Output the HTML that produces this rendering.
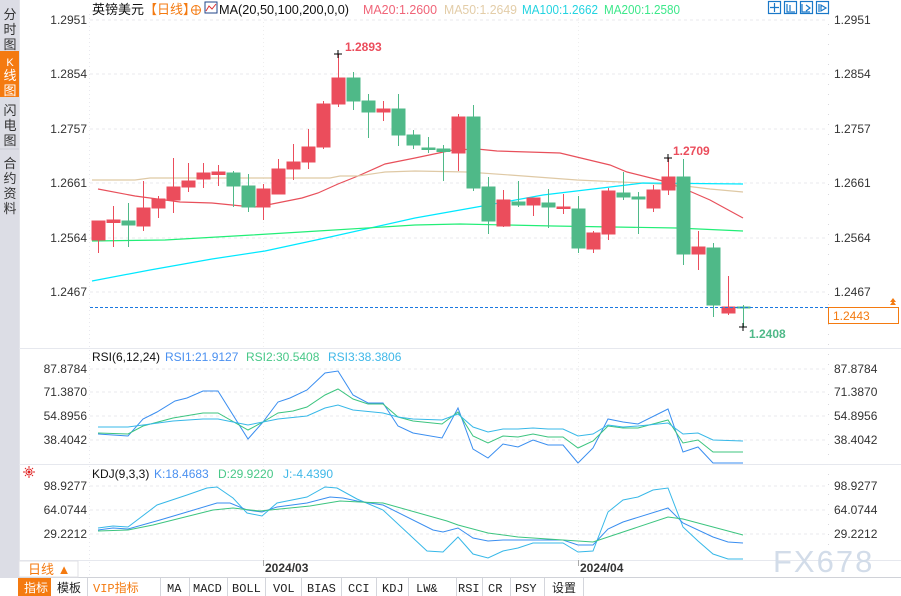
<!DOCTYPE html>
<html><head><meta charset="utf-8"><style>
body{margin:0;width:901px;height:596px;overflow:hidden;background:#fff;font-family:"Liberation Sans","Noto Sans CJK SC",sans-serif;}
svg{position:absolute;left:0;top:0}
</style></head><body>
<svg width="901" height="596" viewBox="0 0 901 596" xmlns="http://www.w3.org/2000/svg" font-family="Liberation Sans, Noto Sans CJK SC, sans-serif">
<!-- sidebar -->
<rect x="0" y="0" width="19" height="578" fill="#dcdde5"/>
<rect x="0" y="51" width="19" height="46" fill="#f47a10"/>
<line x1="0" y1="149" x2="19" y2="149" stroke="#c8c9d2"/>
<g font-size="13" fill="#333" text-anchor="middle">
<text x="10" y="19">分</text><text x="10" y="34">时</text><text x="10" y="49">图</text>
<text x="10" y="66" fill="#fff" font-size="11">K</text><text x="10" y="80" fill="#fff">线</text><text x="10" y="95" fill="#fff">图</text>
<text x="10" y="115">闪</text><text x="10" y="130">电</text><text x="10" y="145">图</text>
<text x="10" y="168">合</text><text x="10" y="183">约</text><text x="10" y="198">资</text><text x="10" y="213">料</text>
</g>
<rect x="19" y="0" width="1" height="578" fill="#e3e4ea"/>
<!-- axis verticals -->
<line x1="89.5" y1="14" x2="89.5" y2="578" stroke="#e8e8ee" stroke-dasharray="1,3"/>
<line x1="828.5" y1="14" x2="828.5" y2="560" stroke="#d8d8de" stroke-dasharray="1,9"/>
<line x1="263.5" y1="14" x2="263.5" y2="560" stroke="#eee" stroke-dasharray="1,3"/>
<line x1="578.5" y1="14" x2="578.5" y2="560" stroke="#eee" stroke-dasharray="1,3"/>
<!-- panel separators -->
<line x1="19" y1="348.5" x2="901" y2="348.5" stroke="#e6e8ee"/>
<line x1="19" y1="464.5" x2="901" y2="464.5" stroke="#e6e8ee"/>
<line x1="19" y1="560.5" x2="901" y2="560.5" stroke="#e6e8ee"/>
<line x1="19" y1="577.5" x2="901" y2="577.5" stroke="#d0d2d8"/>
<!-- grids main -->
<g stroke="#e8e8ec" stroke-dasharray="3,3">
<line x1="90" y1="20" x2="828" y2="20"/><line x1="90" y1="74" x2="828" y2="74"/><line x1="90" y1="129" x2="828" y2="129"/>
<line x1="90" y1="183" x2="828" y2="183"/><line x1="90" y1="238" x2="828" y2="238"/><line x1="90" y1="292" x2="828" y2="292"/>
<line x1="90" y1="369" x2="828" y2="369"/><line x1="90" y1="392" x2="828" y2="392"/><line x1="90" y1="416" x2="828" y2="416"/><line x1="90" y1="440" x2="828" y2="440"/>
<line x1="90" y1="486" x2="828" y2="486"/><line x1="90" y1="510" x2="828" y2="510"/><line x1="90" y1="534" x2="828" y2="534"/>
</g>
<!-- axis labels -->
<g font-size="12" fill="#333">
<g text-anchor="end">
<text x="87" y="24">1.2951</text><text x="87" y="78">1.2854</text><text x="87" y="133">1.2757</text><text x="87" y="187">1.2661</text><text x="87" y="242">1.2564</text><text x="87" y="296">1.2467</text>
<text x="87" y="373">87.8784</text><text x="87" y="396">71.3870</text><text x="87" y="420">54.8956</text><text x="87" y="444">38.4042</text>
<text x="87" y="490">98.9277</text><text x="87" y="514">64.0744</text><text x="87" y="538">29.2212</text>
</g>
<text x="834" y="24">1.2951</text><text x="834" y="78">1.2854</text><text x="834" y="133">1.2757</text><text x="834" y="187">1.2661</text><text x="834" y="242">1.2564</text><text x="834" y="296">1.2467</text>
<text x="834" y="373">87.8784</text><text x="834" y="396">71.3870</text><text x="834" y="420">54.8956</text><text x="834" y="444">38.4042</text>
<text x="834" y="490">98.9277</text><text x="834" y="514">64.0744</text><text x="834" y="538">29.2212</text>
</g>
<!-- header -->
<g font-size="13">
<text x="92" y="14" fill="#111">英镑美元</text>
<text x="144" y="14" fill="#f47a10">【日线】</text>
<circle cx="196" cy="10" r="4.5" fill="none" stroke="#f47a10"/><line x1="191" y1="10" x2="201" y2="10" stroke="#f47a10"/><line x1="196" y1="5" x2="196" y2="15" stroke="#f47a10"/>
<rect x="205" y="2" width="12" height="11" fill="#fff" stroke="#224488"/><polyline points="206,11 209,6 212,9 216,4" fill="none" stroke="#d33"/>
<text x="219" y="14" fill="#111" textLength="130" lengthAdjust="spacingAndGlyphs">MA(20,50,100,200,0,0)</text>
<text x="363" y="14" fill="#f06478" textLength="74" lengthAdjust="spacingAndGlyphs">MA20:1.2600</text>
<text x="444" y="14" fill="#e3cda8" textLength="73" lengthAdjust="spacingAndGlyphs">MA50:1.2649</text>
<text x="522" y="14" fill="#22d3e0" textLength="76" lengthAdjust="spacingAndGlyphs">MA100:1.2662</text>
<text x="604" y="14" fill="#3ce88a" textLength="76" lengthAdjust="spacingAndGlyphs">MA200:1.2580</text>
</g>
<g fill="none" stroke="#1a78c8" stroke-width="1.2">
<rect x="768.5" y="1.5" width="12" height="12"/><rect x="784.5" y="1.5" width="12" height="12"/><rect x="800.5" y="1.5" width="12" height="12"/><rect x="816.5" y="1.5" width="12" height="12"/>
<path d="M774.5 3v9M770 7.5h9M787 4v8h8M790 5v6M802 4v8h8M806 5l4 3-4 3M819 4v8M821 5v6l5-3z"/>
</g>
<!-- MA lines -->
<g fill="none" stroke-width="1.2">
<polyline stroke="#e8505b" points="98,189 135,196 180,202 212,203 242,206 255,207 272,204 302,198 318,193 338,184 358,176 385,164 415,158 453,150 477,149 497,151 560,153 610,165 627,172 663,181 687,190 710,200 743,218"/>
<polyline stroke="#dfc9a5" points="92,180 135,180 150,178 330,178 340,176 358,176 385,172 415,171 467,172 510,175 577,180 643,183 677,185 710,189 743,192"/>
<polyline stroke="#00e8ff" points="92,281 150,270 212,259 265,251 330,237 415,218 477,207 543,195 610,187 643,183 743,184"/>
<polyline stroke="#22ee77" points="92,241 165,240 252,235 318,231 415,225 460,224 553,226 677,228 743,231"/>
</g>
<!-- candles -->
<g stroke-width="1">
<g stroke="#eb4d5c" fill="#eb4d5c">
<line x1="98.5" y1="221" x2="98.5" y2="253"/><rect x="92" y="221" width="13" height="19"/>
<line x1="113.5" y1="206" x2="113.5" y2="247"/><rect x="107" y="220" width="13" height="2.5"/>
<line x1="143.5" y1="181" x2="143.5" y2="231"/><rect x="137" y="208" width="13" height="18"/>
<line x1="158.5" y1="196" x2="158.5" y2="218"/><rect x="152" y="199" width="13" height="9"/>
<line x1="173.5" y1="158" x2="173.5" y2="213"/><rect x="167" y="187" width="13" height="13"/>
<line x1="188.5" y1="163" x2="188.5" y2="192"/><rect x="182" y="181" width="13" height="6"/>
<line x1="203.5" y1="163" x2="203.5" y2="188"/><rect x="197" y="173" width="13" height="6"/>
<line x1="218.5" y1="165" x2="218.5" y2="186"/><rect x="212" y="172" width="13" height="2.5"/>
<line x1="263.5" y1="184" x2="263.5" y2="220"/><rect x="257" y="189" width="13" height="18"/>
<line x1="278.5" y1="159" x2="278.5" y2="194"/><rect x="272" y="169" width="13" height="25"/>
<line x1="293.5" y1="144" x2="293.5" y2="180"/><rect x="287" y="162" width="13" height="7"/>
<line x1="308.5" y1="129" x2="308.5" y2="169"/><rect x="302" y="147" width="13" height="15"/>
<line x1="323.5" y1="101" x2="323.5" y2="149"/><rect x="317" y="104" width="13" height="43"/>
<line x1="338.5" y1="54" x2="338.5" y2="107"/><rect x="332" y="78" width="13" height="26"/>
<line x1="383.5" y1="101" x2="383.5" y2="121"/><rect x="377" y="109" width="13" height="3"/>
<line x1="458.5" y1="114" x2="458.5" y2="171"/><rect x="452" y="117" width="13" height="36"/>
<line x1="503.5" y1="190" x2="503.5" y2="227"/><rect x="497" y="200" width="13" height="26"/>
<line x1="533.5" y1="198" x2="533.5" y2="216"/><rect x="527" y="198" width="13" height="7"/>
<line x1="563.5" y1="194" x2="563.5" y2="214"/><rect x="557" y="207" width="13" height="1.5"/>
<line x1="593.5" y1="231" x2="593.5" y2="253"/><rect x="587" y="233" width="13" height="16"/>
<line x1="608.5" y1="188" x2="608.5" y2="240"/><rect x="602" y="191" width="13" height="43"/>
<line x1="653.5" y1="185" x2="653.5" y2="212"/><rect x="647" y="190" width="13" height="18"/>
<line x1="668.5" y1="158" x2="668.5" y2="195"/><rect x="662" y="177" width="13" height="13"/>
<line x1="698.5" y1="231" x2="698.5" y2="270"/><rect x="692" y="247" width="13" height="7"/>
<line x1="728.5" y1="276" x2="728.5" y2="315"/><rect x="722" y="307" width="13" height="6"/>
</g>
<g stroke="#4fb988" fill="#4fb988">
<line x1="128.5" y1="203" x2="128.5" y2="247"/><rect x="122" y="221" width="13" height="4"/>
<line x1="233.5" y1="171" x2="233.5" y2="207"/><rect x="227" y="173" width="13" height="13"/>
<line x1="248.5" y1="174" x2="248.5" y2="212"/><rect x="242" y="186" width="13" height="21"/>
<line x1="353.5" y1="72" x2="353.5" y2="110"/><rect x="347" y="78" width="13" height="23"/>
<line x1="368.5" y1="94" x2="368.5" y2="138"/><rect x="362" y="101" width="13" height="11"/>
<line x1="398.5" y1="94" x2="398.5" y2="146"/><rect x="392" y="109" width="13" height="26"/>
<line x1="413.5" y1="130" x2="413.5" y2="149"/><rect x="407" y="135" width="13" height="10"/>
<line x1="428.5" y1="137" x2="428.5" y2="153"/><rect x="422" y="148" width="13" height="1.5"/>
<line x1="443.5" y1="145" x2="443.5" y2="181"/><rect x="437" y="149" width="13" height="2.5"/>
<line x1="473.5" y1="105" x2="473.5" y2="191"/><rect x="467" y="117" width="13" height="71"/>
<line x1="488.5" y1="177" x2="488.5" y2="234"/><rect x="482" y="187" width="13" height="34"/>
<line x1="518.5" y1="181" x2="518.5" y2="207"/><rect x="512" y="202" width="13" height="3"/>
<line x1="548.5" y1="189" x2="548.5" y2="228"/><rect x="542" y="203" width="13" height="4"/>
<line x1="578.5" y1="196" x2="578.5" y2="253"/><rect x="572" y="209" width="13" height="39"/>
<line x1="623.5" y1="172" x2="623.5" y2="200"/><rect x="617" y="193" width="13" height="4"/>
<line x1="638.5" y1="192" x2="638.5" y2="234"/><rect x="632" y="197" width="13" height="2"/>
<line x1="683.5" y1="159" x2="683.5" y2="265"/><rect x="677" y="177" width="13" height="77"/>
<line x1="713.5" y1="243" x2="713.5" y2="317"/><rect x="707" y="248" width="13" height="57"/>
<line x1="743.5" y1="305" x2="743.5" y2="327"/><rect x="737" y="307" width="13" height="1"/>
</g>
</g>
<!-- hi/lo markers -->
<g stroke="#000"><path d="M334 54h8M338 50v8M664 158h8M668 154v8M739 327h8M743 323v8"/></g>
<text x="345" y="51" font-size="12" font-weight="bold" fill="#eb4d5c">1.2893</text>
<text x="673" y="155" font-size="12" font-weight="bold" fill="#eb4d5c">1.2709</text>
<text x="749" y="338" font-size="12" font-weight="bold" fill="#4fb988">1.2408</text>
<!-- current price -->
<line x1="90" y1="307.5" x2="828" y2="307.5" stroke="#1a78e0" stroke-dasharray="3,2"/>
<rect x="828.5" y="307.5" width="70" height="16" fill="#fff" stroke="#f47a10"/>
<text x="833" y="320" font-size="12" fill="#f47a10">1.2443</text>
<path d="M893 298l-3 4h6zM893 301l-3 4h6z" fill="#f47a10"/>
<!-- RSI -->
<g font-size="12"><text x="92" y="361" fill="#111">RSI(6,12,24)</text><text x="165" y="361" fill="#4a90f0">RSI1:21.9127</text><text x="246" y="361" fill="#48c888">RSI2:30.5408</text><text x="328" y="361" fill="#40b8e8">RSI3:38.3806</text></g>
<g fill="none" stroke-width="1">
<polyline stroke="#3a8ef0" points="98,434 128,436 143,419 157,412 175,401 187,398 203,391 218,391 248,439 263,422 278,402 290,398 307,390 325,373 338,371 353,395 368,403 383,403 398,426 413,433 442,438 458,408 473,449 488,458 503,444 518,447 533,440 548,445 563,445 578,463 593,448 608,419 623,422 638,424 668,409 683,452 698,447 713,463 743,463"/>
<polyline stroke="#3cc47f" points="98,433 128,434 143,426 173,418 203,413 218,413 248,430 263,422 278,413 293,411 307,407 325,395 338,389 353,399 368,404 383,404 398,417 413,421 442,424 458,412 473,436 488,443 503,436 518,437 533,434 548,437 563,437 578,448 593,441 608,426 623,428 638,428 668,420 683,443 698,440 713,452 743,452"/>
<polyline stroke="#37b8e8" points="98,427 128,427 143,425 173,421 203,419 218,419 248,425 263,422 278,419 307,416 325,408 338,405 353,410 383,413 398,417 413,419 442,420 458,414 473,427 488,432 503,429 518,429 533,428 548,429 563,429 578,436 593,434 608,425 623,427 638,426 668,423 683,434 698,433 713,440 743,441"/>
</g>
<!-- KDJ -->
<g stroke="#e02020" fill="none"><circle cx="29" cy="472" r="3"/><path d="M29 466v2M29 476v2M23 472h2M33 472h2M25 468l1 1M33 468l-1 1M25 476l1-1M33 476l-1-1"/></g>
<circle cx="29" cy="472" r="1.5" fill="#e02020"/>
<g font-size="12"><text x="92" y="478" fill="#111">KDJ(9,3,3)</text><text x="154" y="478" fill="#4a90f0">K:18.4683</text><text x="218" y="478" fill="#48c888">D:29.9220</text><text x="283" y="478" fill="#40b8e8">J:-4.4390</text></g>
<g fill="none" stroke-width="1">
<polyline stroke="#37b8e8" points="98,528 113,526 128,527 157,505 187,495 207,488 217,487 233,498 247,513 262,516 277,503 307,497 325,487 337,488 357,499 383,510 427,551 443,552 458,537 473,554 488,558 503,551 518,548 533,543 563,543 578,552 593,551 608,512 623,500 638,497 653,490 668,488 683,527 698,541 713,554 728,559 743,559"/>
<polyline stroke="#3a8ef0" points="98,530 113,528 128,529 160,520 187,512 217,503 230,503 247,510 262,512 277,507 307,503 330,497 343,498 357,501 383,505 433,530 443,532 458,528 473,538 488,541 503,540 533,540 563,540 578,545 593,545 608,529 623,522 668,508 683,523 713,537 728,542 743,543"/>
<polyline stroke="#3cc47f" points="98,531 128,530 153,525 213,510 233,508 260,511 310,506 340,501 360,502 383,503 447,521 458,525 488,533 518,537 563,540 593,542 668,517 683,519 713,527 743,535"/>
</g>
<!-- date axis -->
<rect x="19" y="561" width="59" height="16" fill="#fff" stroke="#e0e0e6"/>
<text x="28" y="574" font-size="13" fill="#f47a10">日线 ▲</text>
<line x1="263.5" y1="560" x2="263.5" y2="566" stroke="#aaa"/><line x1="578.5" y1="560" x2="578.5" y2="566" stroke="#aaa"/>
<text x="265" y="572" font-size="12" font-weight="bold" fill="#333">2024/03</text>
<text x="580" y="572" font-size="12" font-weight="bold" fill="#333">2024/04</text>
<text x="773" y="572" font-size="31" fill="#d2dce9" letter-spacing="2">FX678</text>
<!-- toolbar -->
<rect x="19" y="578" width="882" height="18" fill="#fff"/>
<rect x="18" y="578" width="33" height="18" fill="#f47a10"/>
<g stroke="#d4d6dc"><path d="M87.5 578v18M160.5 578v18M189.5 578v18M227.5 578v18M265.5 578v18M301.5 578v18M341.5 578v18M376.5 578v18M408.5 578v18M456.5 578v18M482.5 578v18M510.5 578v18M544.5 578v18M583.5 578v18"/></g>
<g font-size="12" font-family="Liberation Mono, Noto Sans CJK SC, monospace" fill="#222">
<text x="24" y="592" fill="#fff" font-family="Noto Sans CJK SC, sans-serif">指标</text>
<text x="57" y="592" font-family="Noto Sans CJK SC, sans-serif">模板</text>
<text x="93" y="592" fill="#f47a10">VIP<tspan font-family="Noto Sans CJK SC, sans-serif">指标</tspan></text>
<text x="167" y="592">MA</text><text x="193" y="592">MACD</text><text x="232" y="592">BOLL</text><text x="273" y="592">VOL</text>
<text x="307" y="592">BIAS</text><text x="348" y="592">CCI</text><text x="382" y="592">KDJ</text><text x="416" y="592">LW&amp;</text>
<text x="458" y="592">RSI</text><text x="488" y="592">CR</text><text x="515" y="592">PSY</text>
<text x="552" y="592" font-family="Noto Sans CJK SC, sans-serif">设置</text>
</g>
</svg>
</body></html>
